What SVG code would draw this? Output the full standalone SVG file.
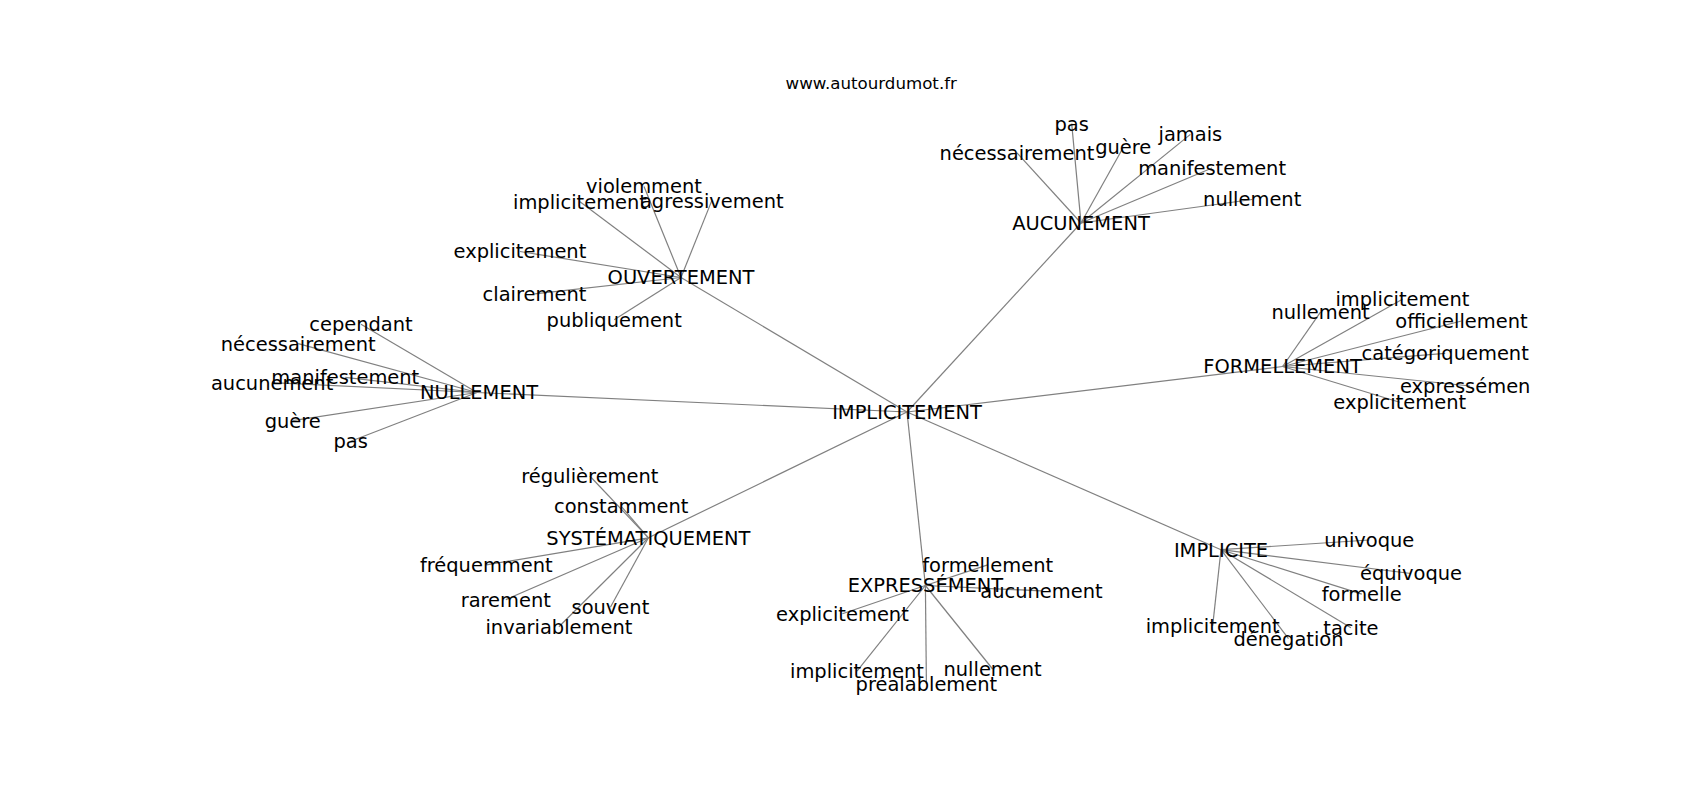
<svg xmlns="http://www.w3.org/2000/svg" width="1700" height="800" viewBox="0 0 1700 800">
<style>
text{font-family:"DejaVu Sans",sans-serif;font-size:19.44px;fill:#000;text-anchor:middle}
.t{font-size:16.67px}
line{stroke:#808080;stroke-width:1.2}
</style>
<rect width="1700" height="800" fill="#fff"/>
<text class="t" x="871.25" y="88.5">www.autourdumot.fr</text>
<g id="edges">
<line x1="907" y1="412" x2="681" y2="277.5"/>
<line x1="907" y1="412" x2="477" y2="392.5"/>
<line x1="907" y1="412" x2="1081" y2="223"/>
<line x1="907" y1="412" x2="1282.6" y2="366.5"/>
<line x1="907" y1="412" x2="1221" y2="549.7"/>
<line x1="907" y1="412" x2="925.4" y2="585.5"/>
<line x1="907" y1="412" x2="648.4" y2="537.8"/>
<line x1="681" y1="277.5" x2="644" y2="186.5"/>
<line x1="681" y1="277.5" x2="580" y2="201.7"/>
<line x1="681" y1="277.5" x2="711.8" y2="200.6"/>
<line x1="681" y1="277.5" x2="519.9" y2="251.5"/>
<line x1="681" y1="277.5" x2="534.5" y2="293.8"/>
<line x1="681" y1="277.5" x2="614.2" y2="319.8"/>
<line x1="477" y1="392.5" x2="361" y2="324.2"/>
<line x1="477" y1="392.5" x2="298.2" y2="343.7"/>
<line x1="477" y1="392.5" x2="345.3" y2="377.3"/>
<line x1="477" y1="392.5" x2="272.1" y2="382.7"/>
<line x1="477" y1="392.5" x2="292.7" y2="420.7"/>
<line x1="477" y1="392.5" x2="350.7" y2="441.3"/>
<line x1="1081" y1="223" x2="1071.7" y2="123.6"/>
<line x1="1081" y1="223" x2="1017" y2="152.9"/>
<line x1="1081" y1="223" x2="1123.2" y2="147.5"/>
<line x1="1081" y1="223" x2="1190.4" y2="134.4"/>
<line x1="1081" y1="223" x2="1212.1" y2="168"/>
<line x1="1081" y1="223" x2="1252.2" y2="199.5"/>
<line x1="1282.6" y1="366.5" x2="1402.4" y2="299.2"/>
<line x1="1282.6" y1="366.5" x2="1320.5" y2="312.2"/>
<line x1="1282.6" y1="366.5" x2="1461.5" y2="321"/>
<line x1="1282.6" y1="366.5" x2="1445.2" y2="353.4"/>
<line x1="1282.6" y1="366.5" x2="1470" y2="386"/>
<line x1="1282.6" y1="366.5" x2="1399.7" y2="402.2"/>
<line x1="1221" y1="549.7" x2="1369.3" y2="540"/>
<line x1="1221" y1="549.7" x2="1411" y2="573.5"/>
<line x1="1221" y1="549.7" x2="1361.8" y2="594.1"/>
<line x1="1221" y1="549.7" x2="1350.9" y2="627.7"/>
<line x1="1221" y1="549.7" x2="1212.7" y2="625.6"/>
<line x1="1221" y1="549.7" x2="1288.5" y2="638.6"/>
<line x1="925.4" y1="585.5" x2="987.7" y2="564.9"/>
<line x1="925.4" y1="585.5" x2="1041.4" y2="590.9"/>
<line x1="925.4" y1="585.5" x2="842.4" y2="613.7"/>
<line x1="925.4" y1="585.5" x2="857" y2="671.1"/>
<line x1="925.4" y1="585.5" x2="926.4" y2="684.1"/>
<line x1="925.4" y1="585.5" x2="992.6" y2="669"/>
<line x1="648.4" y1="537.8" x2="589.8" y2="476"/>
<line x1="648.4" y1="537.8" x2="621.2" y2="506.3"/>
<line x1="648.4" y1="537.8" x2="486.3" y2="564.9"/>
<line x1="648.4" y1="537.8" x2="505.8" y2="599.6"/>
<line x1="648.4" y1="537.8" x2="610.4" y2="607.2"/>
<line x1="648.4" y1="537.8" x2="558.9" y2="626.7"/>
</g>
<g id="labels" transform="translate(0,1.7)">
<g id="n-implicitement-center"><text x="907" y="417.3">IMPLICITEMENT</text></g>
<g id="n-ouvertement"><text x="681" y="282.8">OUVERTEMENT</text></g>
<g id="n-nullement"><text x="479" y="397.8">NULLEMENT</text></g>
<g id="n-aucunement"><text x="1081" y="228.3">AUCUNEMENT</text></g>
<g id="n-formellement"><text x="1282.6" y="371.8">FORMELLEMENT</text></g>
<g id="n-implicite"><text x="1221" y="555">IMPLICITE</text></g>
<g id="n-expressement"><text x="925.4" y="590.8">EXPRESSÉMENT</text></g>
<g id="n-systematiquement"><text x="648.4" y="543.1">SYSTÉMATIQUEMENT</text></g>
<g id="n-o-violemment"><text x="644" y="191.8">violemment</text></g>
<g id="n-o-implicitement"><text x="580" y="207">implicitement</text></g>
<g id="n-o-agressivement"><text x="711.8" y="205.9">agressivement</text></g>
<g id="n-o-explicitement"><text x="519.9" y="256.8">explicitement</text></g>
<g id="n-o-clairement"><text x="534.5" y="299.1">clairement</text></g>
<g id="n-o-publiquement"><text x="614.2" y="325.1">publiquement</text></g>
<g id="n-n-cependant"><text x="361" y="329.5">cependant</text></g>
<g id="n-n-necessairement"><text x="298.2" y="349">nécessairement</text></g>
<g id="n-n-manifestement"><text x="345.3" y="382.6">manifestement</text></g>
<g id="n-n-aucunement"><text x="272.1" y="388">aucunement</text></g>
<g id="n-n-guere"><text x="292.7" y="426">guère</text></g>
<g id="n-n-pas"><text x="350.7" y="446.6">pas</text></g>
<g id="n-a-pas"><text x="1071.7" y="128.9">pas</text></g>
<g id="n-a-necessairement"><text x="1017" y="158.2">nécessairement</text></g>
<g id="n-a-guere"><text x="1123.2" y="152.8">guère</text></g>
<g id="n-a-jamais"><text x="1190.4" y="139.7">jamais</text></g>
<g id="n-a-manifestement"><text x="1212.1" y="173.3">manifestement</text></g>
<g id="n-a-nullement"><text x="1252.2" y="204.8">nullement</text></g>
<g id="n-f-implicitement"><text x="1402.4" y="304.5">implicitement</text></g>
<g id="n-f-nullement"><text x="1320.5" y="317.5">nullement</text></g>
<g id="n-f-officiellement"><text x="1461.5" y="326.3">officiellement</text></g>
<g id="n-f-categoriquement"><text x="1445.2" y="358.7">catégoriquement</text></g>
<g id="n-f-expressement"><text x="1400" y="391.3" style="text-anchor:start">expressémen</text></g>
<g id="n-f-explicitement"><text x="1399.7" y="407.5">explicitement</text></g>
<g id="n-i-univoque"><text x="1369.3" y="545.3">univoque</text></g>
<g id="n-i-equivoque"><text x="1411" y="578.8">équivoque</text></g>
<g id="n-i-formelle"><text x="1361.8" y="599.4">formelle</text></g>
<g id="n-i-tacite"><text x="1350.9" y="633">tacite</text></g>
<g id="n-i-implicitement"><text x="1212.7" y="630.9">implicitement</text></g>
<g id="n-i-denegation"><text x="1288.5" y="643.9">dénégation</text></g>
<g id="n-e-formellement"><text x="987.7" y="570.2">formellement</text></g>
<g id="n-e-aucunement"><text x="1041.4" y="596.2">aucunement</text></g>
<g id="n-e-explicitement"><text x="842.4" y="619">explicitement</text></g>
<g id="n-e-implicitement"><text x="857" y="676.4">implicitement</text></g>
<g id="n-e-prealablement"><text x="926.4" y="689.4">préalablement</text></g>
<g id="n-e-nullement"><text x="992.6" y="674.3">nullement</text></g>
<g id="n-s-regulierement"><text x="589.8" y="481.3">régulièrement</text></g>
<g id="n-s-constamment"><text x="621.2" y="511.6">constamment</text></g>
<g id="n-s-frequemment"><text x="486.3" y="570.2">fréquemment</text></g>
<g id="n-s-rarement"><text x="505.8" y="604.9">rarement</text></g>
<g id="n-s-souvent"><text x="610.4" y="612.5">souvent</text></g>
<g id="n-s-invariablement"><text x="558.9" y="632">invariablement</text></g>
</g>
</svg>
